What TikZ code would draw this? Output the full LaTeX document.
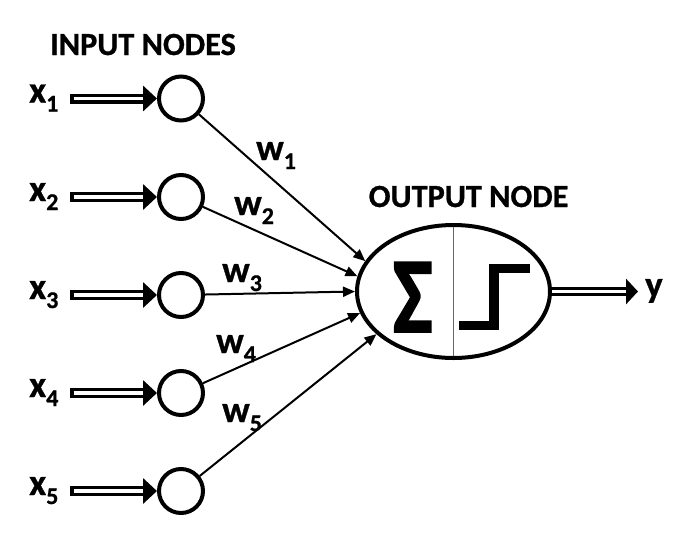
\documentclass[tikz,border=0pt]{standalone}
\usepackage{fontspec}
\usepackage{graphicx}
\setmainfont{Carlito}
\newfontfamily\sigfont{Carlito Bold}[FakeBold=2]
\newfontfamily\heavyfont{Carlito Bold}[FakeBold=0.8]
\usetikzlibrary{arrows.meta,shapes.geometric}
\newcommand\lbl[2]{#1\raisebox{-9pt}{\fontsize{24}{24}\selectfont #2}}
\begin{document}
\begin{tikzpicture}[x=1pt,y=-1pt,
  inode/.style={circle, draw, line width=4pt, minimum size=44pt, inner sep=0pt},
  onode/.style={ellipse, draw, line width=4pt, minimum width=193pt, minimum height=133pt, inner sep=0pt},
  lab/.style={font=\fontsize{37}{37}\selectfont\heavyfont, anchor=base west, inner sep=0pt},
  head/.style={font=\fontsize{32.3}{32.3}\selectfont\heavyfont, anchor=base west, inner sep=0pt},
  wire/.style={line width=2pt, -{Triangle[length=12pt,width=10pt]}},
  dblout/.style={line width=10pt, -{Triangle[length=14pt,width=25pt]}},
  dblin/.style={white, line width=3.5pt, shorten >=14pt, shorten <=3.5pt},
  dbloutb/.style={line width=9pt, -{Triangle[length=12pt,width=25pt]}},
  dblinb/.style={white, line width=3.2pt, shorten >=12pt},
  divider/.style={line width=1.5pt, black!60, shorten >=4pt, shorten <=4pt},
  stepline/.style={line width=9.5pt, miter limit=10}
]
\useasboundingbox (0,0) rectangle (688,544);

\node[head] (inhead) at (50,55) {INPUT NODES};
\node[head] (outhead) at (368.5,207) {OUTPUT NODE};

\node[onode] (out) at (453.5,291.5) {};
\draw[divider] (out.north) -- (out.south);
\node[inner sep=0pt, font=\fontsize{107}{107}\selectfont\sigfont] (sig) at (412.8,297.2) {\scalebox{0.78}[1]{Σ}};
\draw[stepline] (459,325.5) -- (494,325.5) -- (494,268.3) -- (530,268.3);

\foreach \i/\yy in {1/98.5,2/197,3/295,4/393,5/491} {
  \node[inode] (c\i) at (181,\yy) {};
  \coordinate (s\i) at (70,\yy);
  \draw[dblout] (s\i) -- (c\i);
  \draw[dblin] (s\i) -- (c\i);
  \node[lab] (x\i) at (29,\yy+4) {\lbl{x}{\i}};
}

\draw[wire] (c1) -- (out.161.7);
\draw[wire] (c2) -- (out.171.4);
\draw[wire] (c3) -- (out.180);
\draw[wire] (c4) -- (out.193.6);
\draw[wire] (c5) -- (out.209.5);

\node[lab] (w1) at (256,160) {\lbl{w}{1}};
\node[lab] (w2) at (234,215) {\lbl{w}{2}};
\node[lab] (w3) at (222,282) {\lbl{w}{3}};
\node[lab] (w4) at (216,353) {\lbl{w}{4}};
\node[lab] (w5) at (222,422) {\lbl{w}{5}};

\coordinate (ytip) at (638,291.5);
\draw[dbloutb] (out) -- (ytip);
\draw[dblinb] (out) -- (ytip);
\node[lab] (ylab) at (645,297) {y};
\end{tikzpicture}
\end{document}
